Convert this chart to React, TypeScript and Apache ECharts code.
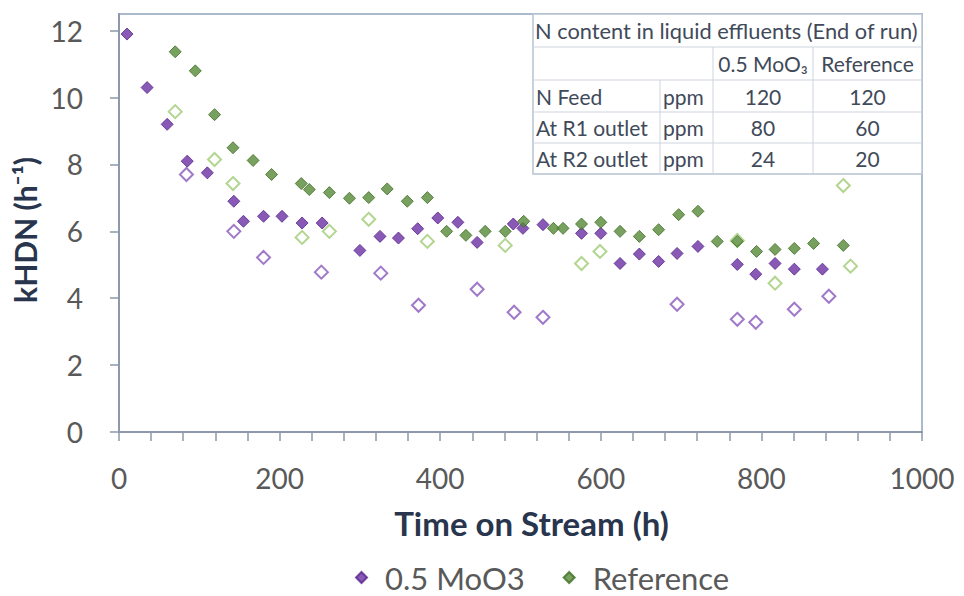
import React, { useEffect, useRef } from "react";
import * as echarts from "echarts";

// ---- Data ----
const moX = [10, 35, 60, 85, 110, 143, 155, 180, 203, 228, 253, 300, 325, 348, 372, 397, 422, 446, 491, 503, 528, 576, 600, 624, 648, 672, 695, 721, 770, 793, 817, 841, 876];
const moY = [11.9, 10.3, 9.2, 8.1, 7.75, 6.9, 6.3, 6.45, 6.45, 6.25, 6.25, 5.43, 5.85, 5.8, 6.08, 6.4, 6.27, 5.67, 6.22, 6.09, 6.2, 5.94, 5.94, 5.04, 5.32, 5.1, 5.34, 5.55, 5.01, 4.72, 5.04, 4.87, 4.87];

const refX = [70, 95, 119, 142, 167, 190, 227, 237, 262, 287, 311, 334, 359, 384, 408, 432, 456, 481, 504, 541, 553, 576, 600, 624, 648, 672, 697, 721, 745, 770, 794, 817, 841, 865, 902];
const refY = [11.37, 10.8, 9.49, 8.5, 8.12, 7.7, 7.43, 7.25, 7.16, 6.99, 7.01, 7.27, 6.9, 7.01, 6.0, 5.88, 6.0, 6.0, 6.3, 6.09, 6.09, 6.22, 6.27, 6.0, 5.85, 6.05, 6.5, 6.6, 5.7, 5.7, 5.4, 5.46, 5.49, 5.64, 5.58];

const moHollowX = [84, 143, 180, 252, 326, 373, 446, 492, 528, 695, 770, 793, 841, 884];
const moHollowY = [7.7, 6.0, 5.22, 4.78, 4.75, 3.79, 4.27, 3.58, 3.43, 3.82, 3.37, 3.28, 3.67, 4.06];

const refHollowX = [70, 119, 142, 228, 262, 311, 384, 481, 576, 599, 770, 817, 902, 911];
const refHollowY = [9.58, 8.15, 7.43, 5.82, 6.0, 6.36, 5.7, 5.58, 5.04, 5.4, 5.73, 4.45, 7.37, 4.96];

const yTicks = [0, 2, 4, 6, 8, 10, 12];
const seriesNames = ["0.5 MoO3", "Reference"];

// ---- Table content ----
const tableTitle = "N content in liquid effluents (End of run)";
const tableHeader = ["", "", "0.5 MoO₃", "Reference"];
const tableRows = [
  ["N Feed", "ppm", "120", "120"],
  ["At R1 outlet", "ppm", "80", "60"],
  ["At R2 outlet", "ppm", "24", "20"],
];

const pairs = (xs: number[], ys: number[]) => xs.map((x, i) => [x, ys[i]]);

const FONT = "Lato, 'Open Sans', sans-serif";
const TXT = "#3f4a5a";

function buildTable() {
  const cols = [533, 660, 713, 813, 922];
  const rows = [14, 47, 80, 112, 143, 174];
  const lineColor = "#cdd4de";
  const els: any[] = [];
  els.push({
    type: "rect",
    shape: { x: cols[0], y: rows[0], width: cols[4] - cols[0], height: rows[5] - rows[0] },
    style: { fill: "#ffffff", stroke: "#b7c3d2", lineWidth: 1.5 },
    z: 100,
  });
  for (let r = 1; r < rows.length - 1; r++) {
    els.push({
      type: "line",
      shape: { x1: cols[0], y1: rows[r], x2: cols[4], y2: rows[r] },
      style: { stroke: lineColor, lineWidth: 1 },
      z: 101,
    });
  }
  els.push({ type: "line", shape: { x1: cols[1], y1: rows[2], x2: cols[1], y2: rows[5] }, style: { stroke: lineColor, lineWidth: 1 }, z: 101 });
  els.push({ type: "line", shape: { x1: cols[2], y1: rows[1], x2: cols[2], y2: rows[5] }, style: { stroke: lineColor, lineWidth: 1 }, z: 101 });
  els.push({ type: "line", shape: { x1: cols[3], y1: rows[1], x2: cols[3], y2: rows[5] }, style: { stroke: lineColor, lineWidth: 1 }, z: 101 });

  els.push({
    type: "text",
    x: cols[0] + 2,
    y: (rows[0] + rows[1]) / 2,
    style: { text: tableTitle, font: `21.8px ${FONT}`, fill: TXT, verticalAlign: "middle", align: "left" },
    z: 102,
  });
  const allRows = [tableHeader, ...tableRows];
  allRows.forEach((row, ri) => {
    const cy = (rows[ri + 1] + rows[ri + 2]) / 2;
    row.forEach((cell, ci) => {
      if (!cell) return;
      const left = ci < 2;
      els.push({
        type: "text",
        x: left ? cols[ci] + 3 : (cols[ci] + cols[ci + 1]) / 2,
        y: cy,
        style: { text: cell, font: `21px ${FONT}`, fill: TXT, verticalAlign: "middle", align: left ? "left" : "center" },
        z: 102,
      });
    });
  });
  return els;
}

export default function App() {
  const ref = useRef<HTMLDivElement>(null);
  useEffect(() => {
    document.body.style.margin = "0";
    if (!ref.current) return;
    const chart = echarts.init(ref.current, undefined, { renderer: "svg" });
    const axisLineColor = "#8d99aa";
    chart.setOption({
      animation: false,
      backgroundColor: "#ffffff",
      grid: {
        left: 119,
        right: 42,
        top: 14,
        bottom: 164,
        show: true,
        borderColor: "#aab9cc",
        borderWidth: 2,
        backgroundColor: "#ffffff",
      },
      legend: {
        data: seriesNames.map((n) => ({ name: n, icon: "diamond" })),
        top: 562,
        left: 355,
        itemWidth: 11,
        itemHeight: 11,
        itemGap: 38,
        padding: 0,
        textStyle: { fontSize: 31, lineHeight: 30, color: "#595959", fontFamily: FONT, padding: [0, 0, 0, 13] },
      },
      xAxis: {
        type: "value",
        min: 0,
        max: 1000,
        interval: 200,
        name: "Time on Stream (h)",
        nameLocation: "middle",
        nameGap: 74,
        nameTextStyle: { fontSize: 33, fontWeight: "bold", color: "#28354d", fontFamily: FONT, padding: [0, 0, 0, 22] },
        axisLine: { show: true, lineStyle: { color: axisLineColor, width: 2 } },
        axisTick: { show: true, inside: false, length: 9, lineStyle: { color: axisLineColor, width: 1.5 } },
        minorTick: { show: true, splitNumber: 5, length: 9, lineStyle: { color: axisLineColor, width: 1.5 } },
        splitLine: { show: false },
        axisLabel: {
          fontSize: 28,
          color: "#595959",
          margin: 32,
          fontFamily: FONT,
          formatter: (v: number) => String(v),
        },
      },
      yAxis: {
        type: "value",
        min: 0,
        max: 12.5,
        interval: 2,
        name: "kHDN (h⁻¹)",
        nameLocation: "middle",
        nameGap: 66,
        nameTextStyle: { fontSize: 30, fontWeight: "bold", color: "#28354d", fontFamily: FONT, padding: [0, 14, 0, 0] },
        axisLine: { show: true, lineStyle: { color: axisLineColor, width: 2 } },
        axisTick: { show: true, inside: false, length: 9, customValues: yTicks, lineStyle: { color: axisLineColor, width: 1.5 } },
        splitLine: { show: false },
        axisLabel: { fontSize: 28, color: "#595959", margin: 36, customValues: yTicks, fontFamily: FONT },
      },
      series: [
        {
          name: "0.5 MoO3 (R2)",
          type: "scatter",
          symbol: "diamond",
          symbolSize: 13,
          data: pairs(moHollowX, moHollowY),
          itemStyle: { color: "#ffffff", borderColor: "#8a58bb", borderWidth: 2 },
          z: 2,
        },
        {
          name: "Reference (R2)",
          type: "scatter",
          symbol: "diamond",
          symbolSize: 13,
          data: pairs(refHollowX, refHollowY),
          itemStyle: { color: "#ffffff", borderColor: "#9fcb74", borderWidth: 2 },
          z: 2,
        },
        {
          name: seriesNames[0],
          type: "scatter",
          symbol: "diamond",
          symbolSize: 12,
          data: pairs(moX, moY),
          itemStyle: { color: "#6c31a3", borderColor: "#58238e", borderWidth: 1 },
          z: 3,
        },
        {
          name: seriesNames[1],
          type: "scatter",
          symbol: "diamond",
          symbolSize: 12,
          data: pairs(refX, refY),
          itemStyle: { color: "#568a37", borderColor: "#3f6e25", borderWidth: 1 },
          z: 3,
        },
      ],
      graphic: buildTable(),
    });
    return () => chart.dispose();
  }, []);
  return <div ref={ref} style={{ width: 964, height: 596 }} />;
}
